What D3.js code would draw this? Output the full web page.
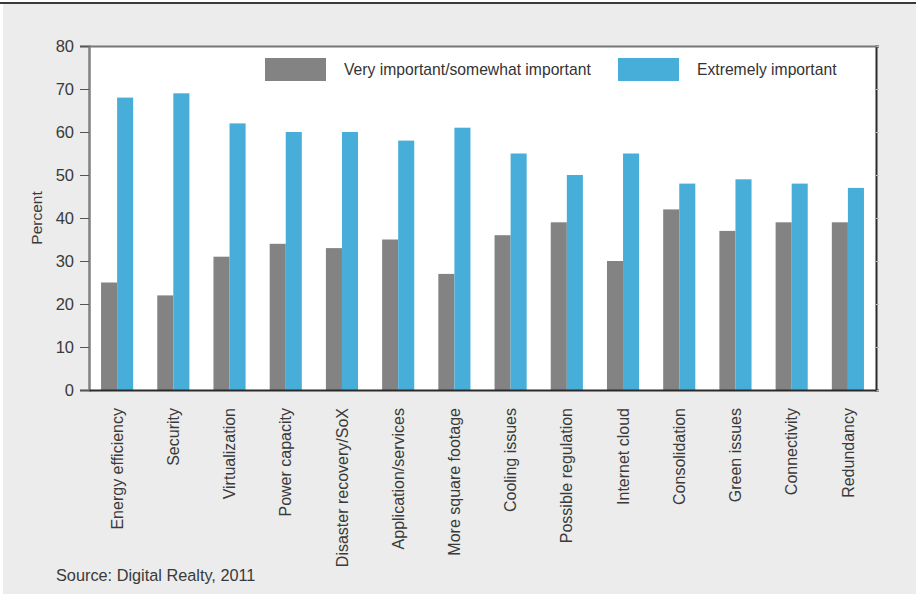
<!DOCTYPE html>
<html>
<head>
<meta charset="utf-8">
<script src="https://cdn.jsdelivr.net/npm/d3@7"></script>
<style>
  body { margin: 0; background: #fff; }
  svg { display: block; font-family: "Liberation Sans", Arial, sans-serif; }
</style>
</head>
<body>
<svg id="chart" width="916" height="598"></svg>
<script>
const categories = ['Energy efficiency', 'Security', 'Virtualization', 'Power capacity',
  'Disaster recovery/SoX', 'Application/services', 'More square footage', 'Cooling issues',
  'Possible regulation', 'Internet cloud', 'Consolidation', 'Green issues', 'Connectivity', 'Redundancy'];
const series = ['Very important/somewhat important', 'Extremely important'];
const veryImportant = [25, 22, 31, 34, 33, 35, 27, 36, 39, 30, 42, 37, 39, 39];
const extremelyImportant = [68, 69, 62, 60, 60, 58, 61, 55, 50, 55, 48, 49, 48, 47];
const yTicks = [0, 10, 20, 30, 40, 50, 60, 70, 80];
const colors = ['#838383', '#47aed9'];

const svg = d3.select('#chart');
const margin = { top: 46, right: 40, bottom: 208, left: 89 };
const width = 916 - margin.left - margin.right;
const height = 598 - margin.top - margin.bottom;

// page background + top rule
svg.append('rect').attr('x', 3).attr('y', 4).attr('width', 913).attr('height', 590).attr('fill', '#ebeceb');
svg.append('line').attr('x1', 0).attr('x2', 916).attr('y1', 3).attr('y2', 3)
  .attr('stroke', '#3a3a3a').attr('stroke-width', 2);

const g = svg.append('g').attr('transform', `translate(${margin.left},${margin.top})`);
g.append('rect').attr('width', width).attr('height', height).attr('fill', '#fff');

const x0 = d3.scaleBand().domain(categories).range([0, width]);
const x1 = d3.scaleBand().domain(series).range([0, x0.bandwidth()]).paddingOuter(0.75);
const y = d3.scaleLinear().domain([0, 80]).range([height, 0]);

const rows = categories.map((c, i) => ({ cat: c, vals: [veryImportant[i], extremelyImportant[i]] }));

// bars
const groups = g.selectAll('.grp').data(rows).enter().append('g')
  .attr('transform', d => `translate(${x0(d.cat)},0)`);
groups.selectAll('rect')
  .data(d => d.vals.map((v, k) => ({ s: series[k], v, k })))
  .enter().append('rect')
  .attr('x', d => x1(d.s))
  .attr('width', x1.bandwidth())
  .attr('y', d => y(d.v))
  .attr('height', d => height - y(d.v))
  .attr('fill', d => colors[d.k]);

// frame axes
const leftAxis = g.append('g').call(d3.axisLeft(y).tickValues(yTicks).tickSize(9).tickPadding(6));
leftAxis.select('.domain').attr('stroke', '#808080').attr('stroke-width', 2.5);
leftAxis.selectAll('.tick line').attr('stroke', '#555');
leftAxis.selectAll('.tick text').attr('fill', '#3a3a3a').style('font-size', '16.5px');

const rightAxis = g.append('g').attr('transform', `translate(${width},0)`)
  .call(d3.axisLeft(y).tickValues(yTicks).tickSize(-3).tickFormat(''));
rightAxis.select('.domain').attr('stroke', '#2a2a2a').attr('stroke-width', 2);
rightAxis.selectAll('.tick line').attr('stroke', '#bbb');

const topAxis = g.append('g')
  .call(d3.axisBottom(x0).tickSize(0).tickFormat(''));
topAxis.select('.domain').attr('stroke', '#777').attr('stroke-width', 2);

const bottomAxis = g.append('g').attr('transform', `translate(0,${height})`)
  .call(d3.axisBottom(x0).tickSize(0));
bottomAxis.select('.domain').attr('stroke', '#2a2a2a').attr('stroke-width', 2);
bottomAxis.selectAll('.tick text')
  .attr('fill', '#3a3a3a')
  .style('font-size', '16px')
  .attr('text-anchor', 'end')
  .attr('transform', 'rotate(-90)')
  .attr('x', -18).attr('y', 0).attr('dy', '0.35em');

// y axis title
g.append('text')
  .attr('transform', 'rotate(-90)')
  .attr('x', -y(40))
  .attr('y', -margin.left + 37)
  .attr('dy', '0.35em')
  .attr('text-anchor', 'middle')
  .attr('fill', '#3a3a3a')
  .style('font-size', '15.5px')
  .text('Percent');

// legend
const legend = g.append('g').attr('transform', 'translate(176,12)');
[{ x: 0, tx: 79 }, { x: 353, tx: 432 }].forEach((p, k) => {
  legend.append('rect').attr('x', p.x).attr('y', 0).attr('width', 61).attr('height', 23).attr('fill', colors[k]);
  legend.append('text').attr('x', p.tx).attr('y', 11.5).attr('dy', '0.35em')
    .attr('fill', '#333').style('font-size', '15.7px').text(series[k]);
});

// source
svg.append('text').attr('x', 56).attr('y', 575).attr('dy', '0.35em')
  .attr('fill', '#3a3a3a').style('font-size', '16.3px')
  .text('Source: Digital Realty, 2011');
</script>
</body>
</html>
